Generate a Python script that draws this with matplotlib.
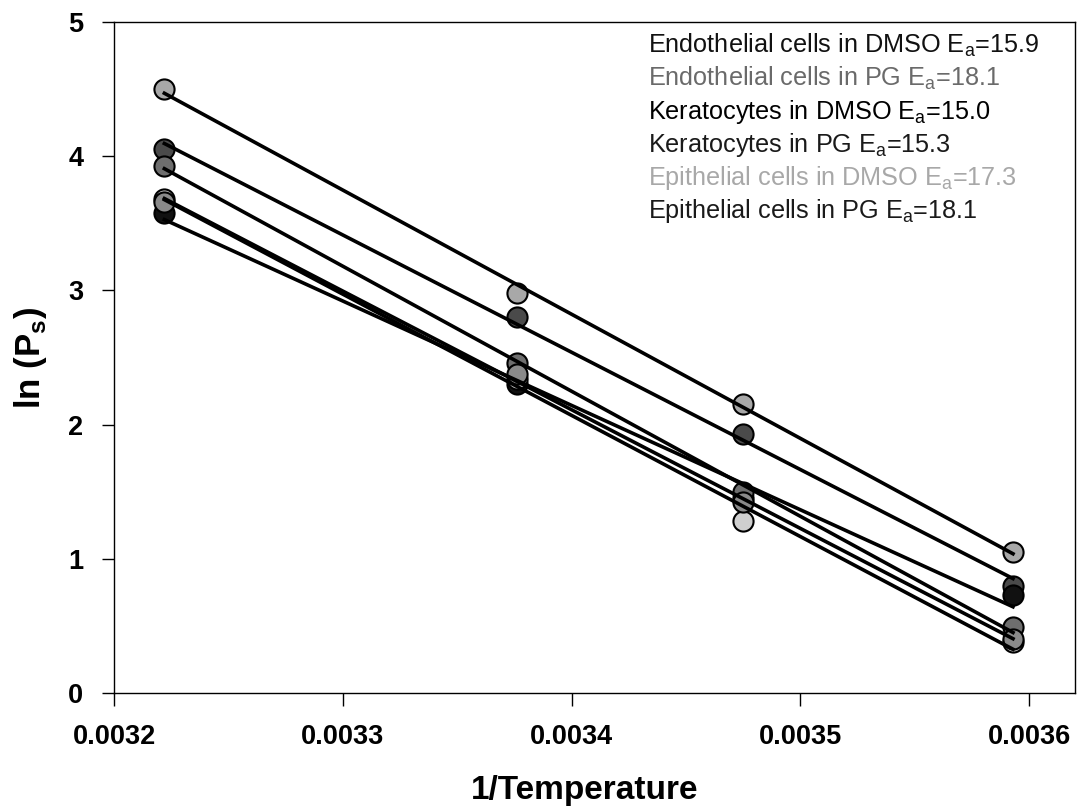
import numpy as np
import matplotlib.pyplot as plt

plt.rcParams['font.family'] = ['Liberation Sans', 'DejaVu Sans']
plt.rcParams['mathtext.fontset'] = 'custom'
plt.rcParams['mathtext.rm'] = 'Liberation Sans'
plt.rcParams['mathtext.bf'] = 'Liberation Sans:bold'

# 1/T for the four incubation temperatures
inv_temp = [0.003222, 0.003376, 0.003475, 0.003593]

# ln(Ps) per cell type / solvent
endo_dmso = [4.05, 2.80, 1.93, 0.80]
endo_pg = [4.50, 2.98, 2.15, 1.05]
kera_dmso = [3.58, 2.30, 1.45, 0.73]
kera_pg = [3.93, 2.46, 1.50, 0.49]
epi_dmso = [3.68, 2.34, 1.28, 0.38]
epi_pg = [3.66, 2.38, 1.42, 0.40]

names = ["Endothelial cells in DMSO", "Endothelial cells in PG",
         "Keratocytes in DMSO", "Keratocytes in PG",
         "Epithelial cells in DMSO", "Epithelial cells in PG"]
ea = [15.9, 18.1, 15.0, 15.3, 17.3, 18.1]
series = [endo_dmso, endo_pg, kera_dmso, kera_pg, epi_dmso, epi_pg]

fills = ["#4a4a4a", "#a8a8a8", "#111111", "#6e6e6e", "#cfcfcf", "#8a8a8a"]
text_cols = ["#111111", "#6a6a6a", "#000000", "#1a1a1a", "#a8a8a8", "#1a1a1a"]

fig = plt.figure(figsize=(10.78, 8.08), dpi=100)
ax = fig.add_axes([0.1058, 0.1423, 0.8912, 0.8305])

x = np.array(inv_temp)
for ys, fc in zip(series, fills):
    ys = np.array(ys)
    m, b = np.polyfit(x, ys, 1)
    ax.plot([x[0], x[-1]], [m * x[0] + b, m * x[-1] + b], color="black", lw=2.6, zorder=3)
    ax.plot(x, ys, "o", ms=14.5, mfc=fc, mec="black", mew=1.5, zorder=2)

for i, (n, e, c) in enumerate(zip(names, ea, text_cols)):
    ax.text(0.556, 0.965 - i * 0.0493, n + r" E$_\mathregular{a}$=" + f"{e:.1f}",
            transform=ax.transAxes, fontsize=18.2, color=c, va="center", ha="left")

ax.set_xlim(0.0032, 0.00362)
ax.set_ylim(0, 5)
ax.set_xticks([0.0032, 0.0033, 0.0034, 0.0035, 0.0036])
ax.set_xticklabels(["0.0032", "0.0033", "0.0034", "0.0035", "0.0036"])
ax.set_yticks([0, 1, 2, 3, 4, 5])
ax.tick_params(direction="out", length=9, width=1, labelsize=19.5, pad=13)
for lab in ax.get_xticklabels() + ax.get_yticklabels():
    lab.set_fontweight("bold")
for sp in ax.spines.values():
    sp.set_linewidth(1)

ax.set_xlabel("1/Temperature", fontsize=24, fontweight="bold")
ax.xaxis.set_label_coords(0.49, -0.122)
ax.set_ylabel(r"ln (P$_\mathregular{s}$)", fontsize=25, fontweight="bold", labelpad=14)

fig.savefig("out.png", dpi=100)
